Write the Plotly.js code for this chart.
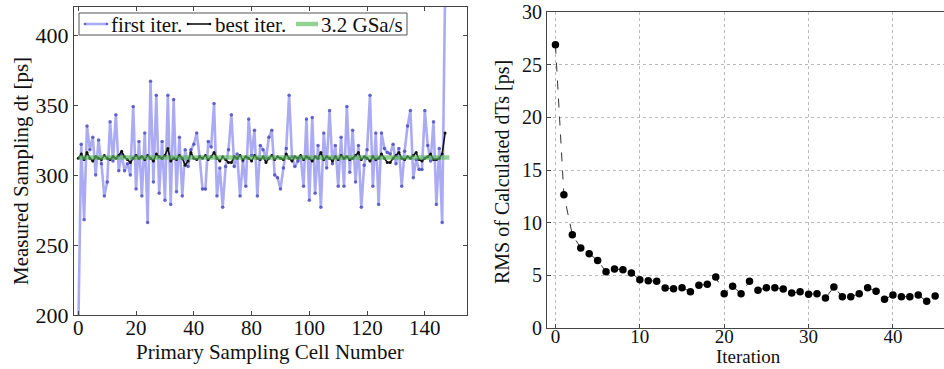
<!DOCTYPE html>
<html>
<head>
<meta charset="utf-8">
<script src="https://cdn.plot.ly/plotly-3.0.1.min.js"></script>
<style>
html,body{margin:0;padding:0;background:#fff;}
#chart{width:944px;height:369px;}
</style>
</head>
<body>
<div id="chart"></div>
<script>
// ---- data ----
var firstIter = [190,322,268,335,318,327,300,325,308,285,295,338,310,343,303,315,303,308,300,349,
290,324,285,330,266,367,295,357,287,324,282,357,279,354,288,327,285,318,306,318,
322,330,313,290,290,324,320,351,285,305,277,306,318,343,306,315,285,310,292,340,
314,332,285,321,318,312,327,332,300,298,290,305,319,357,313,306,310,313,292,340,
282,341,287,321,277,330,305,346,308,321,292,327,292,349,302,332,295,321,277,307,
318,357,292,330,279,330,319,316,315,322,308,319,292,317,335,346,298,311,304,304,
346,321,310,338,279,319,266,430];
var bestIter = [312,315,311,316,312,310,313,312,311,314,312,311,313,312,314,317,313,311,309,312,
314,312,313,311,314,312,310,315,313,312,314,319,310,312,311,314,312,307,310,316,
312,311,313,312,314,311,313,316,312,310,313,311,309,309,313,312,314,311,313,312,
310,314,312,311,313,309,312,314,311,313,312,311,315,312,310,313,312,314,311,313,
312,310,313,312,316,311,313,312,310,313,311,314,312,313,311,312,314,316,311,313,
312,310,313,311,312,315,312,309,309,312,314,316,312,311,313,312,314,316,311,310,
312,313,315,311,311,312,315,330];
var nominalX = [0, 128.5];
var nominalY = [312.5, 312.5];
var cellTickVals = [0,20,40,60,80,100,120];
var cellTickText = ["0","20","40","80","100","120","140"];

var rms = [26.9,12.66,8.86,7.6,7.06,6.4,5.35,5.6,5.54,5.22,
4.59,4.49,4.43,3.8,3.73,3.83,3.45,4.05,4.15,4.84,
3.26,3.96,3.26,4.43,3.58,3.83,3.83,3.7,3.32,3.45,
3.2,3.26,2.85,3.89,2.97,2.97,3.26,3.83,3.5,2.72,
3.13,2.97,2.97,3.13,2.53,3.04];

var legendNames = ["first iter.", "best iter.", "3.2 GSa/s"];

// ---- build traces ----
var cells = firstIter.map(function(_, i){ return i; });
var iters = rms.map(function(_, i){ return i; });

var FONT = "Liberation Serif";
var BLUE_LINE = "rgba(120,120,235,0.62)";
var BLUE_MARK = "rgba(70,70,190,0.8)";
var GREEN = "rgba(90,185,90,0.65)";

var traces = [
  {x: cells, y: firstIter, type: "scatter", mode: "lines+markers", name: legendNames[0],
   line: {color: BLUE_LINE, width: 2.6},
   marker: {color: BLUE_MARK, size: 3.5},
   xaxis: "x", yaxis: "y"},
  {x: cells, y: bestIter, type: "scatter", mode: "lines+markers", name: legendNames[1],
   line: {color: "#111", width: 1.6},
   marker: {color: "#111", size: 3},
   xaxis: "x", yaxis: "y"},
  {x: nominalX, y: nominalY, type: "scatter", mode: "lines", name: legendNames[2],
   line: {color: GREEN, width: 4.5},
   xaxis: "x", yaxis: "y"},
  {x: iters, y: rms, type: "scatter", mode: "lines+markers", name: "RMS",
   line: {color: "#333", width: 1, dash: "dash"},
   marker: {color: "#000", size: 7.5},
   xaxis: "x2", yaxis: "y2"}
];

var W = 944, H = 369;
function px(x){ return x / W; }
function py(y){ return 1 - y / H; }

var axisCommon = {
  showline: true, linecolor: "#444", linewidth: 1,
  ticks: "inside", ticklen: 4, tickcolor: "#444",
  zeroline: false, showgrid: false,
  tickfont: {family: FONT, size: 21, color: "#111"}
};

// legend drawn as a framed key (box, samples, labels) in paper coordinates
var keyBox = {x0: 79, x1: 407, y0: 13, y1: 35};
var keyItems = [
  {x0: 85, x1: 107, tx: 109, color: BLUE_LINE, width: 2.6, dot: BLUE_MARK},
  {x0: 188, x1: 210, tx: 213, color: "#111", width: 1.6, dot: "#111"},
  {x0: 296, x1: 318, tx: 319, color: GREEN, width: 4.5, dot: null}
];
var keyY = 24;
var shapes = [{type: "rect", xref: "paper", yref: "paper",
  x0: px(keyBox.x0), x1: px(keyBox.x1), y0: py(keyBox.y1), y1: py(keyBox.y0),
  line: {color: "#555", width: 1}, fillcolor: "#fff", layer: "above"}];
var annotations = [];
keyItems.forEach(function(k, i){
  shapes.push({type: "line", xref: "paper", yref: "paper",
    x0: px(k.x0), x1: px(k.x1), y0: py(keyY), y1: py(keyY),
    line: {color: k.color, width: k.width}, layer: "above"});
  if (k.dot) {
    [k.x0, k.x1].forEach(function(xx){
      shapes.push({type: "circle", xref: "paper", yref: "paper",
        x0: px(xx - 1.3), x1: px(xx + 1.3), y0: py(keyY + 1.3), y1: py(keyY - 1.3),
        line: {width: 0}, fillcolor: k.dot, layer: "above"});
    });
  }
  annotations.push({text: legendNames[i], xref: "paper", yref: "paper",
    x: px(k.tx), y: py(keyY + 1), xanchor: "left", yanchor: "middle", showarrow: false,
    font: {family: FONT, size: 21, color: "#111"}});
});

annotations = annotations.concat([
  {text: "Primary Sampling Cell Number", xref: "paper", yref: "paper",
   x: px(270), y: py(352), xanchor: "center", yanchor: "middle", showarrow: false,
   font: {family: FONT, size: 21, color: "#111"}},
  {text: "Measured Sampling dt [ps]", xref: "paper", yref: "paper",
   x: px(21), y: py(171), xanchor: "center", yanchor: "middle", showarrow: false, textangle: -90,
   font: {family: FONT, size: 21, color: "#111"}},
  {text: "Iteration", xref: "paper", yref: "paper",
   x: px(748), y: 0, xanchor: "center", yanchor: "bottom", showarrow: false,
   font: {family: FONT, size: 19, color: "#111"}},
  {text: "RMS of Calculated dTs [ps]", xref: "paper", yref: "paper",
   x: px(502), y: py(172), xanchor: "center", yanchor: "middle", showarrow: false, textangle: -90,
   font: {family: FONT, size: 20, color: "#111"}}
]);

var layout = {
  width: W, height: H,
  font: {family: FONT, color: "#111"},
  margin: {l: 0, r: 0, t: 0, b: 0},
  paper_bgcolor: "#fff", plot_bgcolor: "#fff",
  showlegend: false,
  xaxis: Object.assign({}, axisCommon, {
    domain: [px(74), px(467)], range: [-1.5, 134.6],
    tickvals: cellTickVals, ticktext: cellTickText, mirror: "ticks",
    ticklabelstandoff: -6
  }),
  yaxis: Object.assign({}, axisCommon, {
    domain: [py(315), py(7)], range: [200, 420],
    tickvals: [200,250,300,350,400], mirror: "ticks",
    tickfont: {family: FONT, size: 22, color: "#111"}
  }),
  xaxis2: Object.assign({}, axisCommon, {
    domain: [px(547), 1], range: [-1, 46.05], anchor: "y2",
    tickvals: [0,10,20,30,40], mirror: true,
    showgrid: true, gridcolor: "#bbb", griddash: "dot", gridwidth: 1,
    tickfont: {family: FONT, size: 19, color: "#111"},
    ticklabelstandoff: -9
  }),
  yaxis2: Object.assign({}, axisCommon, {
    domain: [py(328), py(12)], range: [0, 30], anchor: "x2",
    tickvals: [0,5,10,15,20,25,30], mirror: false,
    showgrid: true, gridcolor: "#bbb", griddash: "dot", gridwidth: 1,
    tickfont: {family: FONT, size: 20, color: "#111"}
  }),
  shapes: shapes,
  annotations: annotations
};

Plotly.newPlot("chart", traces, layout, {staticPlot: true, displayModeBar: false});
</script>
</body>
</html>
